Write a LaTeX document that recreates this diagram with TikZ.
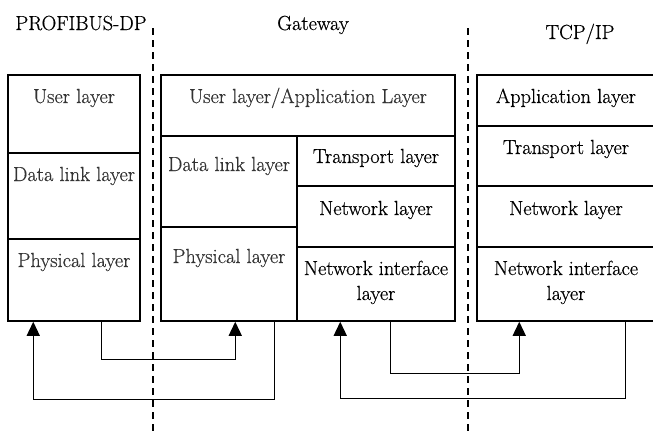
\documentclass[tikz,border=0pt]{standalone}
\usepackage{fontspec}
\newfontfamily\dgfont{Latin Modern Roman}[FakeBold=0.5]
\usetikzlibrary{arrows.meta}
\begin{document}
\begin{tikzpicture}[x=1pt,y=-1pt,
  cell/.style={draw, line width=1.5pt, inner sep=0pt, rectangle},
  lbl/.style={font=\dgfont\fontsize{20.4}{25}\selectfont, inner sep=0pt, anchor=base, align=center},
  glbl/.style={lbl, text=black!80},
  arr/.style={line width=1.3pt, -{Triangle[width=13pt,length=14pt]}},
  sep/.style={line width=1.3pt, dash pattern=on 7pt off 5pt}]
\useasboundingbox (0,0) rectangle (653,434);
\clip (0,0) rectangle (653,434);
% PROFIBUS-DP stack
\node[cell, minimum width=132pt, minimum height=78pt] (pdU) at (74,114) {};
\node[cell, minimum width=132pt, minimum height=86pt] (pdD) at (74,196) {};
\node[cell, minimum width=132pt, minimum height=82pt] (pdP) at (74,280) {};
% Gateway
\node[cell, minimum width=294pt, minimum height=61pt] (gwU) at (308,105.5) {};
\node[cell, minimum width=136pt, minimum height=91pt] (gwD) at (229,181.5) {};
\node[cell, minimum width=136pt, minimum height=94pt] (gwP) at (229,274) {};
\node[cell, minimum width=158pt, minimum height=50pt] (gwT) at (376,161) {};
\node[cell, minimum width=158pt, minimum height=61pt] (gwN) at (376,216.5) {};
\node[cell, minimum width=158pt, minimum height=74pt] (gwI) at (376,284) {};
% TCP/IP
\node[cell, minimum width=179pt, minimum height=51pt] (tpA) at (566.5,100.5) {};
\node[cell, minimum width=179pt, minimum height=60pt] (tpT) at (566.5,156) {};
\node[cell, minimum width=179pt, minimum height=61pt] (tpN) at (566.5,216.5) {};
\node[cell, minimum width=179pt, minimum height=74pt] (tpI) at (566.5,284) {};
% headers
\node[lbl] (hPD) at (81,30) {PROFIBUS-DP};
\node[lbl] (hGW) at (313,30) {Gateway};
\node[lbl] (hTP) at (580,39) {TCP/IP};
% labels
\node[glbl] (tpdU) at (74,103) {User layer};
\node[glbl] (tpdD) at (74,181) {Data link layer};
\node[glbl] (tpdP) at (74,267) {Physical layer};
\node[glbl] (tgwU) at (308,103) {User layer/Application Layer};
\node[glbl] (tgwD) at (229,171) {Data link layer};
\node[glbl] (tgwP) at (229,263) {Physical layer};
\node[lbl] (tgwT) at (376,163) {Transport layer};
\node[lbl] (tgwN) at (376,215) {Network layer};
\node[lbl] (tgwI) at (376,300) {Network interface\\layer};
\node[lbl] (ttpA) at (566,103) {Application layer};
\node[lbl] (ttpT) at (566,154) {Transport layer};
\node[lbl] (ttpN) at (566,215) {Network layer};
\node[lbl] (ttpI) at (566,300) {Network interface\\layer};
% separators
\coordinate (s1t) at (153,28); \coordinate (s1b) at (153,434);
\coordinate (s2t) at (468,28); \coordinate (s2b) at (468,434);
\draw[sep] (s1t) -- (s1b);
\draw[sep] (s2t) -- (s2b);
% connectors
\draw[arr] ([xshift=94pt]pdP.south west) -- ++(0,38) -| ([xshift=75pt]gwP.south west);
\draw[arr] ([xshift=114pt]gwP.south west) -- ++(0,78) -| ([xshift=26pt]pdP.south west);
\draw[arr] ([xshift=94pt]gwI.south west) -- ++(0,52) -| ([xshift=43pt]tpI.south west);
\draw[arr] ([xshift=149pt]tpI.south west) -- ++(0,77) -| ([xshift=44pt]gwI.south west);
\end{tikzpicture}
\end{document}
